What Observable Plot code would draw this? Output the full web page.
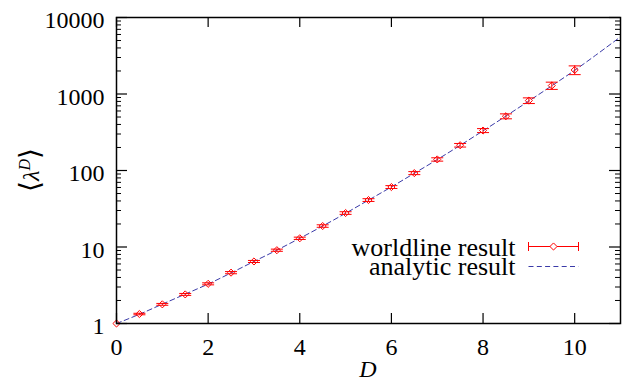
<!DOCTYPE html>
<html>
<head>
<meta charset="utf-8">
<script src="https://cdn.jsdelivr.net/npm/d3@7"></script>
<script src="https://cdn.jsdelivr.net/npm/@observablehq/plot@0.6"></script>
<style>
  html, body { margin: 0; padding: 0; background: white; }
</style>
</head>
<body>
<div id="chart"></div>
<script>
// Worldline (numerical) results
const D = [0, 0.5, 1, 1.5, 2, 2.5, 3, 3.5, 4, 4.5, 5, 5.5, 6, 6.5, 7, 7.5, 8, 8.5, 9, 9.5, 10];
const worldline = [1, 1.33, 1.78, 2.40, 3.30, 4.62, 6.47, 9.08, 13.0, 18.8, 27.8, 41.1, 60.8, 92.5, 139.6, 214, 333, 512, 820, 1288, 2061];
const worldlineErr = [0, 0.03, 0.05, 0.07, 0.1, 0.15, 0.2, 0.3, 0.45, 0.7, 1.1, 1.7, 2.6, 4.2, 7, 11.5, 20, 38, 70, 140, 270];

// Analytic curve
const analyticD = [0, 0.5, 1, 1.5, 2, 2.5, 3, 3.5, 4, 4.5, 5, 5.5, 6, 6.5, 7, 7.5, 8, 8.5, 9, 9.5, 10, 10.5, 11];
const analytic = [1, 1.32, 1.79, 2.42, 3.28, 4.58, 6.47, 9.1, 13.0, 18.8, 27.6, 41, 61, 92, 139, 213, 330, 515, 810, 1280, 2040, 3350, 5600];

// Tick labels
const xTicks = [0, 2, 4, 6, 8, 10];
const yTicks = [1, 10, 100, 1000, 10000];
const yMinor = [];
for (const p of [1, 10, 100, 1000]) for (let k = 2; k <= 9; k++) yMinor.push(k * p);

const points = D.map((d, i) => ({D: d, v: worldline[i], e: worldlineErr[i]}));
const curve = analyticD.map((d, i) => ({D: d, v: analytic[i]}));

const hline = {draw(ctx, size) { const w = Math.sqrt(size / Math.PI); ctx.moveTo(-w, 0); ctx.lineTo(w, 0); }};
const vline = {draw(ctx, size) { const w = Math.sqrt(size / Math.PI); ctx.moveTo(0, -w); ctx.lineTo(0, w); }};

const W = 626, H = 383, mL = 116, mR = 6, mT = 17, mB = 60;
const innerW = W - mL - mR, innerH = H - mT - mB;
const RED = "#ff0000", BLUE = "#3a3aa8";
const FONT = "'Liberation Serif', 'DejaVu Serif', serif";

const chart = Plot.plot({
  width: W, height: H,
  marginLeft: mL, marginRight: mR, marginTop: mT, marginBottom: mB,
  style: {fontFamily: FONT, fontSize: "24px", background: "white", color: "black"},
  x: {domain: [0, 11]},
  y: {type: "log", domain: [1, 10000]},
  marks: [
    // inward ticks
    Plot.tickX(xTicks, {x: d => d, insetTop: innerH - 10, stroke: "black", strokeWidth: 1.2}),
    Plot.tickX(xTicks, {x: d => d, insetBottom: innerH - 10, stroke: "black", strokeWidth: 1.2}),
    Plot.tickY(yTicks, {y: d => d, insetRight: innerW - 11, stroke: "black", strokeWidth: 1.2}),
    Plot.tickY(yTicks, {y: d => d, insetLeft: innerW - 11, stroke: "black", strokeWidth: 1.2}),
    Plot.tickY(yMinor, {y: d => d, insetRight: innerW - 5, stroke: "black", strokeWidth: 1}),
    Plot.tickY(yMinor, {y: d => d, insetLeft: innerW - 5, stroke: "black", strokeWidth: 1}),
    Plot.axisX({ticks: xTicks, tickSize: 0, tickPadding: 14, fontSize: 24, tickFormat: d => String(d), label: null}),
    Plot.axisY({ticks: yTicks, tickSize: 0, tickPadding: 12, fontSize: 24, dy: 3, tickFormat: d => String(d), label: null}),
    // analytic
    Plot.line(curve, {x: "D", y: "v", stroke: BLUE, strokeWidth: 1, strokeDasharray: "5,3.3", curve: "monotone-x"}),
    // worldline error bars
    Plot.ruleX(points, {x: "D", y1: d => Math.max(1e-9, d.v - d.e), y2: d => d.v + d.e, stroke: RED, strokeWidth: 1, clip: true}),
    Plot.dot(points, {x: "D", y: d => d.v + d.e, symbol: hline, r: 6, stroke: RED, strokeWidth: 1, fill: "none", clip: true}),
    Plot.dot(points, {x: "D", y: d => d.v - d.e, symbol: hline, r: 6, stroke: RED, strokeWidth: 1, fill: "none", clip: true}),
    Plot.dot(points, {x: "D", y: "v", symbol: "diamond2", r: 3.2, stroke: RED, strokeWidth: 1, fill: "none"}),
    // legend
    Plot.text(["worldline result"], {frameAnchor: "bottom-right", dx: -105, dy: -76, textAnchor: "end", lineAnchor: "middle", fontSize: 26}),
    Plot.text(["analytic result"], {frameAnchor: "bottom-right", dx: -105, dy: -57, textAnchor: "end", lineAnchor: "middle", fontSize: 26}),
    Plot.dot([0], {frameAnchor: "bottom-right", dx: -67, dy: -77, symbol: hline, r: 25, stroke: RED, strokeWidth: 1}),
    Plot.dot([0], {frameAnchor: "bottom-right", dx: -92, dy: -77, symbol: vline, r: 4.5, stroke: RED, strokeWidth: 1}),
    Plot.dot([0], {frameAnchor: "bottom-right", dx: -42, dy: -77, symbol: vline, r: 4.5, stroke: RED, strokeWidth: 1}),
    Plot.dot([0], {frameAnchor: "bottom-right", dx: -67, dy: -77, symbol: "diamond2", r: 3.2, stroke: RED, strokeWidth: 1, fill: "white"}),
    Plot.dot([0], {frameAnchor: "bottom-right", dx: -67, dy: -57, symbol: hline, r: 25, stroke: BLUE, strokeWidth: 1, strokeDasharray: "5,3.3"}),
    Plot.frame({stroke: "black", strokeWidth: 1.5})
  ]
});

const svg = d3.select(chart);
// x label
svg.append("text")
  .attr("x", mL + innerW / 2).attr("y", 377)
  .attr("text-anchor", "middle")
  .style("font-family", FONT).style("font-size", "24px").style("font-style", "italic")
  .text("D");
// y label
const yl = svg.append("text")
  .attr("transform", "translate(39,170) rotate(-90)")
  .attr("text-anchor", "middle")
  .style("font-family", FONT).style("font-size", "24px");
yl.append("tspan").style("font-family", "'DejaVu Serif', serif").style("font-size", "28px").text("\u27E8");
yl.append("tspan").style("font-style", "italic").text("\u03BB");
yl.append("tspan").style("font-style", "italic").style("font-size", "16px").attr("dy", "-9").text("D");
yl.append("tspan").style("font-family", "'DejaVu Serif', serif").style("font-size", "28px").attr("dy", "9").text("\u27E9");

document.getElementById("chart").appendChild(chart);
</script>
</body>
</html>
